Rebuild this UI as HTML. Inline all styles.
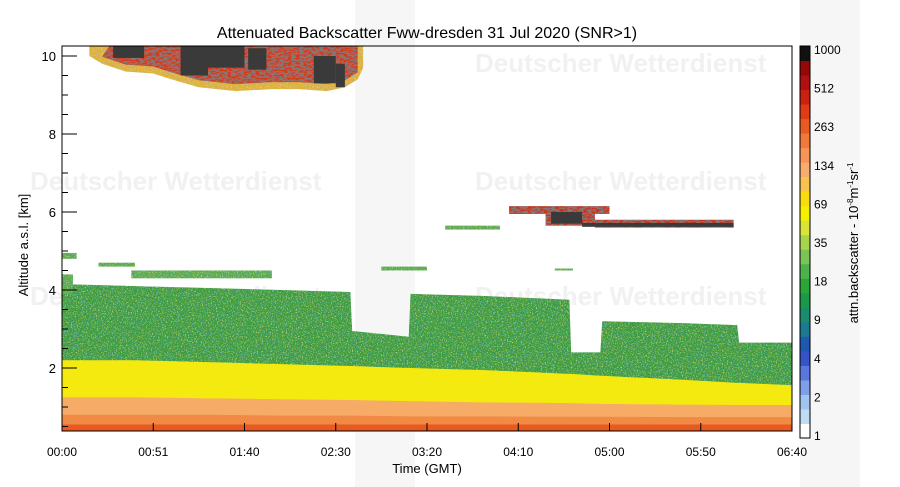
<!DOCTYPE html>
<html><head><meta charset="utf-8"><style>
html,body{margin:0;padding:0;background:#fff;width:900px;height:487px;overflow:hidden}
svg{display:block;font-family:"Liberation Sans",sans-serif}
</style></head><body>
<svg id="chart" width="900" height="487" viewBox="0 0 900 487">
<defs>
<filter id="speck" x="0" y="0" width="1" height="1">
<feTurbulence type="fractalNoise" baseFrequency="0.9" numOctaves="1" seed="3" result="n"/>
<feColorMatrix in="n" type="matrix" values="0 0 0 0 0.2  0 0 0 0 0.5  0 0 0 0 0.8  0 0 0 -2.6 1.2"/>
<feComposite in2="SourceGraphic" operator="in" result="c"/>
<feTurbulence type="fractalNoise" baseFrequency="0.8" numOctaves="1" seed="9" result="n2"/>
<feColorMatrix in="n2" type="matrix" values="0 0 0 0 0.85  0 0 0 0 0.9  0 0 0 0 0.2  0 0 0 -2.6 1.15" result="y2"/>
<feComposite in="y2" in2="SourceGraphic" operator="in" result="c2"/>
<feMerge><feMergeNode in="SourceGraphic"/><feMergeNode in="c"/><feMergeNode in="c2"/></feMerge>
</filter>
<filter id="fire" x="0" y="0" width="1" height="1">
<feTurbulence type="fractalNoise" baseFrequency="0.25 0.6" numOctaves="2" seed="5" result="n"/>
<feColorMatrix in="n" type="matrix" values="0 0 0 0 0.2  0 0 0 0 0.2  0 0 0 0 0.2  0 0 0 -4 2.4"/>
<feComposite in2="SourceGraphic" operator="in" result="c"/>
<feMerge><feMergeNode in="SourceGraphic"/><feMergeNode in="c"/></feMerge>
</filter>
</defs>
<g id="watermark" fill="#f1f1f1" font-weight="bold" font-size="26">
<rect x="355" y="0" width="60" height="487" fill="#f6f6f6"/>
<rect x="800" y="0" width="60" height="487" fill="#f6f6f6"/>
<text x="30" y="190">Deutscher Wetterdienst</text>
<text x="475" y="190">Deutscher Wetterdienst</text>
<text x="475" y="72">Deutscher Wetterdienst</text>
<text x="30" y="305">Deutscher Wetterdienst</text>
<text x="475" y="305">Deutscher Wetterdienst</text>
</g>
<g id="plot"></g>
<rect x="62" y="46" width="730" height="385" fill="none" stroke="#000" stroke-width="1"/>
<g id="axes"></g>
<text x="427" y="38" text-anchor="middle" font-size="16">Attenuated Backscatter Fww-dresden 31 Jul 2020 (SNR&gt;1)</text>
<text x="427" y="473" text-anchor="middle" font-size="13">Time (GMT)</text>
<text transform="translate(28,245) rotate(-90)" text-anchor="middle" font-size="13">Altitude a.s.l. [km]</text>
<g id="cbar"></g>
<text transform="translate(858,243) rotate(-90)" text-anchor="middle" font-size="13">attn.backscatter - 10<tspan font-size="8" dy="-5">-8</tspan><tspan dy="5">m</tspan><tspan font-size="8" dy="-5">-1</tspan><tspan dy="5">sr</tspan><tspan font-size="8" dy="-5">-1</tspan></text>
</svg>
<script>
// time samples (minutes since 00:00)
const times   = [0, 40, 80, 120, 158, 159, 190, 191, 230, 278, 279, 295, 296, 340, 370, 371, 400];
// top of aerosol/green layer (km)
const greenTop = [4.15, 4.1, 4.05, 4.0, 3.95, 2.95, 2.8, 3.9, 3.85, 3.75, 2.4, 2.4, 3.2, 3.15, 3.1, 2.65, 2.65];
// boundary-layer top (yellow) (km)
const yellowTop = [2.2, 2.2, 2.15, 2.1, 2.05, 2.05, 2.0, 2.0, 1.95, 1.85, 1.85, 1.8, 1.8, 1.7, 1.62, 1.62, 1.56];
// light-orange top (km)
const orangeTop = [1.25, 1.25, 1.22, 1.2, 1.18, 1.18, 1.15, 1.15, 1.12, 1.1, 1.1, 1.08, 1.08, 1.06, 1.05, 1.05, 1.05];
// dark-orange top (km)
const darkTop = [0.8, 0.8, 0.8, 0.78, 0.78, 0.78, 0.76, 0.76, 0.76, 0.75, 0.75, 0.75, 0.75, 0.74, 0.74, 0.74, 0.74];
// red near-ground top (km)
const redTop = [0.55, 0.55, 0.55, 0.55, 0.55, 0.55, 0.55, 0.55, 0.55, 0.55, 0.55, 0.55, 0.55, 0.55, 0.55, 0.55, 0.55];
// cirrus cloud outline
const cirrusTimes = [15, 22, 35, 50, 60, 75, 95, 115, 130, 145, 155, 162, 165];
const cirrusBase  = [10.0, 9.8, 9.6, 9.55, 9.4, 9.2, 9.1, 9.15, 9.15, 9.1, 9.2, 9.4, 9.7];
// cloud / aerosol patches: [startMin, endMin, baseKm, topKm]
const cirrusCore = [[28,45,9.95,10.3],[65,80,9.5,10.3],[80,100,9.7,10.3],[102,112,9.65,10.2],[138,150,9.3,10.0],[150,155,9.2,9.8]];
const midCloud = [[245,300,5.95,6.15],[265,292,5.65,6.05],[292,368,5.6,5.8]];
const midCore = [[268,285,5.7,6.0],[285,368,5.62,5.72]];
const thinLayers = [[20,40,4.6,4.7],[38,115,4.3,4.5],[175,200,4.5,4.6],[210,240,5.55,5.65],[270,280,4.5,4.55],[0,8,4.8,4.95],[0,6,3.9,4.4]];
const cbarLabels = ["1","2","4","9","18","35","69","134","263","512","1000"];
const cbarColors = ["#ffffff","#c0dcf4","#a0c4f0","#7f9fe8","#5a78dc","#3454c8","#1f58b0","#1c7a90","#1a8c6c","#1a9a48","#2aa638","#4eb24a","#7cc458","#a8d44c","#d8e438","#f4f000","#f8dc10","#f8c450","#f8ac70","#f89458","#f07838","#e85a20","#e03c14","#cc2010","#b01010","#960808","#111111"];
const xTicks = ["00:00","00:51","01:40","02:30","03:20","04:10","05:00","05:50","06:40"];
const yTicks = [2,4,6,8,10];

const X0=62,X1=792,YT=46,YB=431;
const x = t => X0 + t/400*(X1-X0);
const y = km => 446 - km*39;
const NS='http://www.w3.org/2000/svg';
const plot=document.getElementById('plot'), axes=document.getElementById('axes'), cbar=document.getElementById('cbar');
function mk(tag,attrs,parent){const e=document.createElementNS(NS,tag);for(const k in attrs)e.setAttribute(k,attrs[k]);parent.appendChild(e);return e;}
function band(top,color,name){
  let d='M'+x(times[0])+','+YB;
  times.forEach((t,i)=>{d+=' L'+x(t)+','+Math.max(YT,y(top[i]));});
  d+=' L'+x(times[times.length-1])+','+YB+' Z';
  const p=mk('path',{d:d,fill:color},plot);
  
  
  return p;
}
const g=band(greenTop,'#3c9c3a','aerosol-layer'); g.setAttribute('filter','url(#speck)');
band(yellowTop,'#f4ea10','boundary-layer');
band(orangeTop,'#f6ac66','lower-layer');
band(darkTop,'#f08a44','surface-layer');
band(redTop,'#e85a20','ground-layer');
function patches(arr,color,name,filt){
  arr.forEach(p=>{
    const r=mk('rect',{x:x(p[0]),y:Math.max(YT,y(p[3])),width:x(p[1])-x(p[0]),height:y(p[2])-Math.max(YT,y(p[3])),fill:color},plot);
    if(filt) r.setAttribute('filter','url(#'+filt+')');
    
    
  });
}
// cirrus polygon
let cd='M'+x(cirrusTimes[0])+','+YT;
cirrusTimes.forEach((t,i)=>{cd+=' L'+x(t)+','+y(cirrusBase[i]);});
cd+=' L'+x(cirrusTimes[cirrusTimes.length-1])+','+YT+' Z';
const ce=mk('path',{d:cd,fill:'#e0b030',filter:'url(#speck)'},plot);


let cd2='M'+x(cirrusTimes[1]+4)+','+YT;
cirrusTimes.slice(1,-1).forEach((t,i)=>{cd2+=' L'+x(t)+','+(y(cirrusBase[i+1])-7);});
cd2+=' L'+x(cirrusTimes[cirrusTimes.length-2])+','+YT+' Z';
const cc=mk('path',{d:cd2,fill:'#d23a18',filter:'url(#fire)'},plot);



patches(thinLayers,'#5aaa48','thin-aerosol-layer','speck');
patches(cirrusCore,'#3a3a3a','cirrus-core',null);
patches(midCloud,'#c83018','mid-cloud','fire');
patches(midCore,'#3a3a3a','mid-cloud-core',null);

xTicks.forEach((l,i)=>{
  const px=X0+i*(X1-X0)/(xTicks.length-1);
  mk('line',{x1:px,x2:px,y1:YB,y2:YB-8,stroke:'#000'},axes);
  const t=mk('text',{x:px,y:456,'text-anchor':'middle','font-size':'12'},axes);t.textContent=l;
  
  
});
for(let k=0.5;k<=10.25;k+=0.5){mk('line',{x1:X0,x2:X0+(k%2===0?15:6),y1:y(k),y2:y(k),stroke:'#000'},axes);}
yTicks.forEach(v=>{
  const t=mk('text',{x:56,y:y(v)+5,'text-anchor':'end','font-size':'13'},axes);t.textContent=v;
  
  
});
const CB0=438,CB1=46,n=cbarColors.length,h=(CB0-CB1)/n;
cbarColors.forEach((c,i)=>{mk('rect',{x:800,y:CB0-(i+1)*h,width:10,height:h+0.5,fill:c},cbar);});
mk('rect',{x:800,y:CB1,width:10,height:CB0-CB1,fill:'none',stroke:'#000'},cbar);
cbarLabels.forEach((l,i)=>{
  const t=mk('text',{x:814,y:CB0-2-i*(CB0-52)/(cbarLabels.length-1)+4,'font-size':'12'},cbar);t.textContent=l;
  
  
});
</script>
</body></html>
